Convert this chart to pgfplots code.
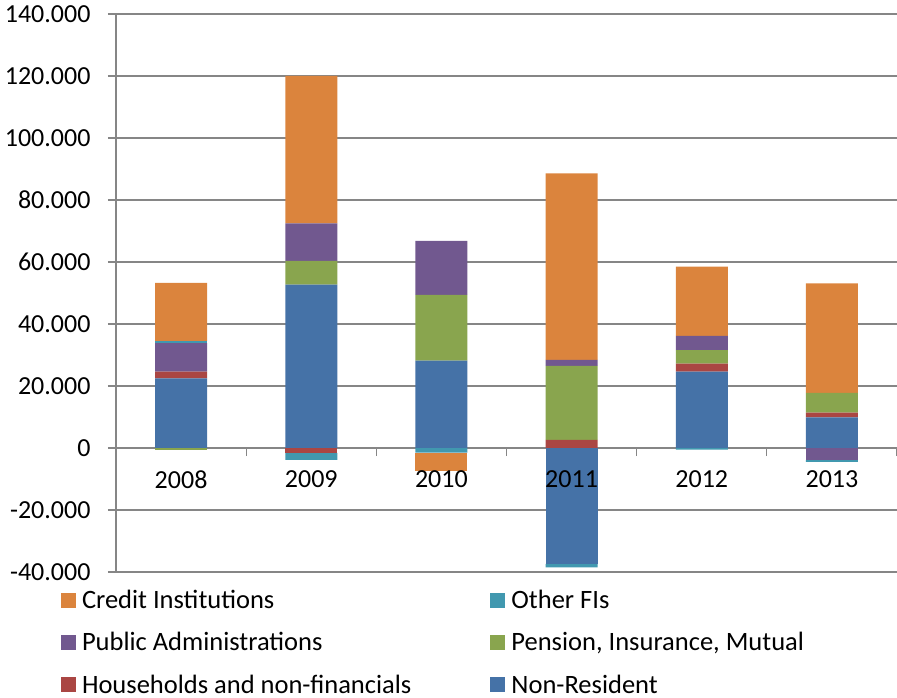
\documentclass[border=0pt]{standalone}
\usepackage{fontspec}
\setmainfont{Carlito}
\usepackage{pgfplots}
\usepackage{pgfplotstable}
\pgfplotsset{compat=1.18}
\definecolor{cNR}{HTML}{4572A7}
\definecolor{cHH}{HTML}{AA4643}
\definecolor{cPEN}{HTML}{89A54E}
\definecolor{cPUB}{HTML}{71588F}
\definecolor{cOTH}{HTML}{4198AF}
\definecolor{cCRED}{HTML}{DB843D}
\definecolor{gridgray}{HTML}{868686}

% positive parts (stacked upward from 0)
\pgfplotstableread{
x nr hh pen pub oth cred
0 22500 2100 0 9200 700 18800
1 52700 0 7700 12100 0 47500
2 28200 0 21200 17400 0 0
3 0 2600 23900 1900 0 60200
4 24600 2600 4400 4600 0 22300
5 9900 1500 6400 0 0 35300
}\pos
% negative parts (stacked downward from 0)
\pgfplotstableread{
x nr hh pen pub oth cred
0 0 0 -700 0 0 0
1 0 -1600 0 0 -2200 0
2 0 0 0 0 -1500 -5800
3 -37400 0 0 0 -1100 0
4 0 0 0 0 -500 0
5 0 0 0 -3900 -600 0
}\neg

\pgfplotsset{
  base/.style={
    at={(116pt,125pt)}, anchor=south west,
    scale only axis, width=781pt, height=558pt,
    xmin=-0.5, xmax=5.5, ymin=-40000, ymax=140000,
    ybar stacked, bar width=52pt,
  },
  leg/.style={legend image code/.code={\fill[##1] (0pt,-7.5pt) rectangle (15pt,7.5pt);\path (19pt,0pt);}},
}

\begin{document}
\begin{tikzpicture}
\begin{axis}[base,
  axis x line*=middle, axis y line*=left,
  axis line style={draw=gridgray, line width=1.2pt},
  ymajorgrids, grid style={draw=gridgray, line width=1.2pt},
  ytick={-40000,-20000,0,20000,40000,60000,80000,100000,120000,140000},
  yticklabels={-40.000,-20.000,0,20.000,40.000,60.000,80.000,100.000,120.000,140.000},
  scaled y ticks=false,
  ytick style={draw=gridgray, line width=1.2pt},
  major tick length=8pt, tick align=outside,
  xtick={-0.5,0.5,1.5,2.5,3.5,4.5,5.5},
  xticklabels={,,,,,,},
  xtick style={draw=gridgray, line width=1.2pt},
  tick label style={font=\fontsize{26}{31}\selectfont, text=black},
  yticklabel style={anchor=east, xshift=-14pt},
  legend columns=2, reverse legend,
  legend style={draw=none, fill=none, inner sep=0pt, outer sep=0pt,
    at={(-0.0704,-0.0290)}, anchor=north west,
    font=\fontsize{26.5}{31}\selectfont,
    row sep=18.5pt,
    /tikz/column 2/.style={column sep=77pt}},
  legend cell align=left,
]
\addplot[leg, fill=cNR, draw=none] table[x=x, y=nr] {\pos};
\addlegendentry{Non-Resident}
\addplot[leg, fill=cHH, draw=none] table[x=x, y=hh] {\pos};
\addlegendentry{Households and non-financials}
\addplot[leg, fill=cPEN, draw=none] table[x=x, y=pen] {\pos};
\addlegendentry{Pension, Insurance, Mutual}
\addplot[leg, fill=cPUB, draw=none] table[x=x, y=pub] {\pos};
\addlegendentry{Public Administrations}
\addplot[leg, fill=cOTH, draw=none] table[x=x, y=oth] {\pos};
\addlegendentry{Other FIs}
\addplot[leg, fill=cCRED, draw=none] table[x=x, y=cred] {\pos};
\addlegendentry{Credit Institutions}
\end{axis}
\begin{axis}[base,
  axis on top,
  axis x line*=middle, axis y line=none,
  axis line style={draw=none},
  ytick=\empty,
  xtick={0,1,2,3,4,5},
  xticklabels={2008,2009,2010,2011,2012,2013},
  major tick length=0pt,
  tick label style={font=\fontsize{26}{31}\selectfont, text=black},
  xticklabel style={anchor=north, yshift=-19pt},
]
\addplot[fill=cNR, draw=none] table[x=x, y=nr] {\neg};
\addplot[fill=cHH, draw=none] table[x=x, y=hh] {\neg};
\addplot[fill=cPEN, draw=none] table[x=x, y=pen] {\neg};
\addplot[fill=cPUB, draw=none] table[x=x, y=pub] {\neg};
\addplot[fill=cOTH, draw=none] table[x=x, y=oth] {\neg};
\addplot[fill=cCRED, draw=none] table[x=x, y=cred] {\neg};
\end{axis}
\pgfresetboundingbox
\useasboundingbox (0,0) rectangle (897pt,697pt);
\end{tikzpicture}
\end{document}
